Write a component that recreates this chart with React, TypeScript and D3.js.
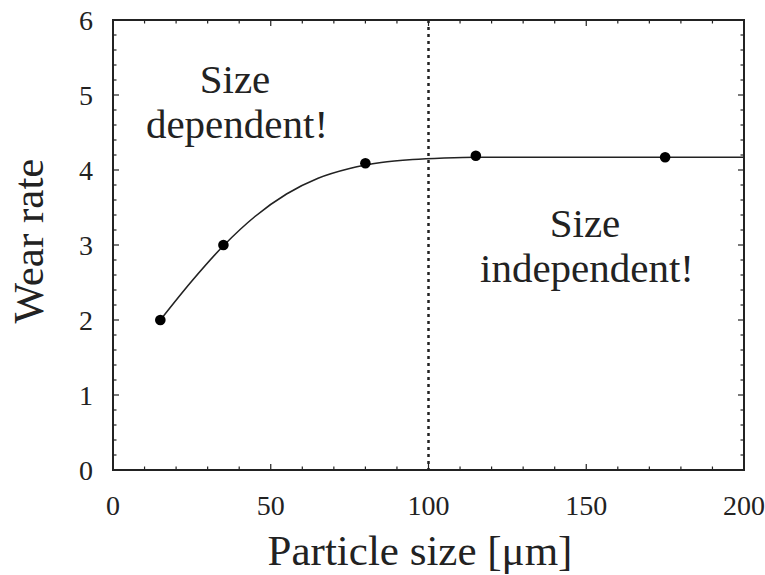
import React from "react";
import * as d3 from "d3";

const pointX = [15, 35, 80, 115, 175];
const pointY = [2.0, 3.0, 4.09, 4.19, 4.17];
const curveX = [15, 25, 35, 45, 55, 65, 75, 85, 95, 105, 115, 200];
const curveY = [2.0, 2.52, 2.99, 3.38, 3.68, 3.89, 4.02, 4.1, 4.14, 4.16, 4.17, 4.17];
const xTicks = [0, 50, 100, 150, 200];
const yTicks = [0, 1, 2, 3, 4, 5, 6];
const boundaryX = 100;

const W = 765, H = 575;
const left = 113, right = 744, top = 20, bottom = 470;
const FONT = "'Liberation Serif', 'DejaVu Serif', serif";
const INK = "#222";

export default function App() {
  const x = d3.scaleLinear().domain([0, 200]).range([left, right]);
  const y = d3.scaleLinear().domain([0, 6]).range([bottom, top]);
  const line = d3
    .line<number>()
    .x((_, i) => x(curveX[i]))
    .y((d) => y(d))
    .curve(d3.curveMonotoneX);

  const xMinor = d3.range(0, 201, 10);
  const yMinor = d3.range(0, 30.5, 1).map((v) => v / 5);

  return (
    <svg
      width={W}
      height={H}
      style={{ position: "absolute", left: 0, top: 0, background: "#fff" }}
      fontFamily={FONT}
    >
      <rect x={0} y={0} width={W} height={H} fill="#fff" />
      {xMinor.map((v) => {
        const L = v % 50 === 0 ? 6 : 3.5;
        return (
          <g key={"xt" + v} stroke={INK} strokeWidth={1.2}>
            <line x1={x(v)} x2={x(v)} y1={bottom} y2={bottom - L} />
            <line x1={x(v)} x2={x(v)} y1={top} y2={top + L} />
          </g>
        );
      })}
      {yMinor.map((v) => {
        const L = Math.abs(v - Math.round(v)) < 1e-6 ? 6 : 3.5;
        return (
          <g key={"yt" + v} stroke={INK} strokeWidth={1.2}>
            <line x1={left} x2={left + L} y1={y(v)} y2={y(v)} />
            <line x1={right} x2={right - L} y1={y(v)} y2={y(v)} />
          </g>
        );
      })}
      <rect
        x={left}
        y={top}
        width={right - left}
        height={bottom - top}
        fill="none"
        stroke={INK}
        strokeWidth={2}
      />
      {xTicks.map((v) => (
        <text key={"xl" + v} x={x(v)} y={515} fontSize={28} textAnchor="middle" fill={INK}>
          {v}
        </text>
      ))}
      {yTicks.map((v) => (
        <text
          key={"yl" + v}
          x={93}
          y={y(v)}
          fontSize={28}
          textAnchor="end"
          dominantBaseline="central"
          fill={INK}
        >
          {v}
        </text>
      ))}
      <text x={420} y={565} fontSize={43} textAnchor="middle" fill={INK}>
        Particle size [μm]
      </text>
      <text
        transform={`translate(43,241) rotate(-90)`}
        fontSize={43}
        textAnchor="middle"
        fill={INK}
      >
        Wear rate
      </text>
      <line
        x1={x(boundaryX)}
        x2={x(boundaryX)}
        y1={top}
        y2={bottom}
        stroke={INK}
        strokeWidth={2.5}
        strokeDasharray="3,4"
      />
      <path d={line(curveY) || ""} fill="none" stroke={INK} strokeWidth={1.6} />
      {pointX.map((v, i) => (
        <circle key={"p" + i} cx={x(v)} cy={y(pointY[i])} r={5.3} fill="#000" />
      ))}
      <text x={235} y={93} fontSize={41} textAnchor="middle" fill={INK}>
        Size
      </text>
      <text x={237} y={138} fontSize={41} textAnchor="middle" fill={INK}>
        dependent!
      </text>
      <text x={585} y={237} fontSize={41} textAnchor="middle" fill={INK}>
        Size
      </text>
      <text x={587} y={282} fontSize={41} textAnchor="middle" fill={INK}>
        independent!
      </text>
    </svg>
  );
}
